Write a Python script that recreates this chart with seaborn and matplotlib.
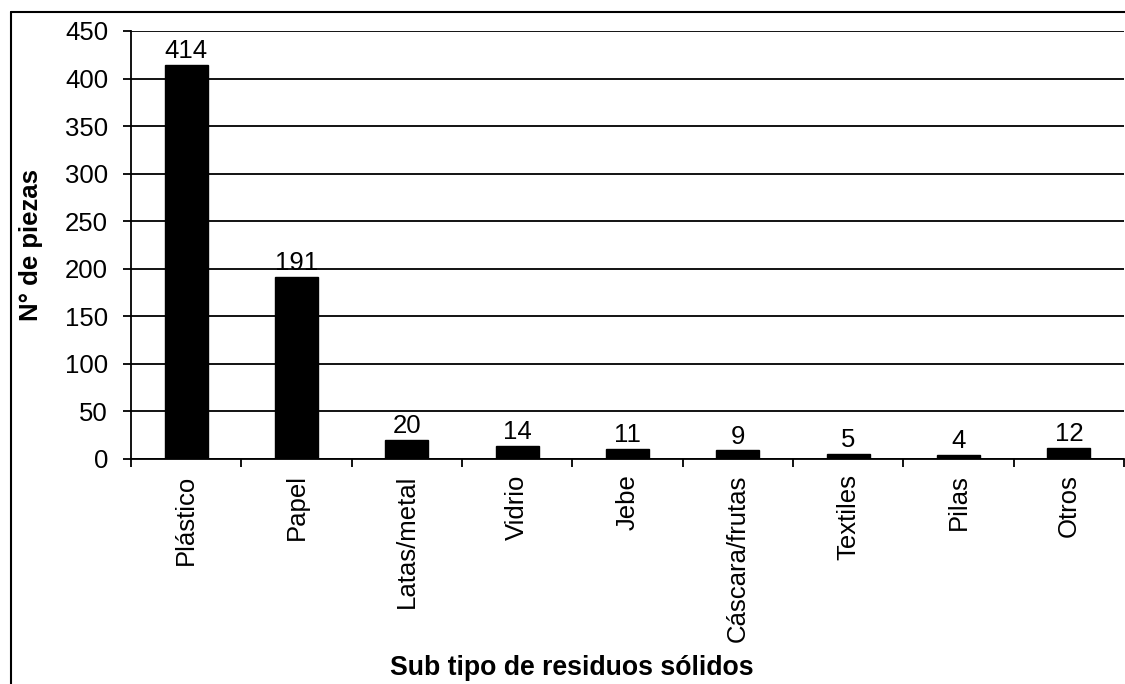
import numpy as np
import pandas as pd
import matplotlib
matplotlib.use("Agg")
import matplotlib.pyplot as plt
import seaborn as sns

categories = ["Plástico", "Papel", "Latas/metal", "Vidrio", "Jebe",
              "Cáscara/frutas", "Textiles", "Pilas", "Otros"]
counts = [414, 191, 20, 14, 11, 9, 5, 4, 12]
y_ticks = [0, 50, 100, 150, 200, 250, 300, 350, 400, 450]

df = pd.DataFrame({"tipo": categories, "piezas": counts})

sns.set_theme(style="white")
plt.rcParams["font.family"] = ["Liberation Sans", "DejaVu Sans"]
plt.rcParams["text.color"] = "black"
plt.rcParams["xtick.color"] = "black"
plt.rcParams["ytick.color"] = "black"
plt.rcParams["axes.labelcolor"] = "black"

FS = 18.5

W, H = 1125, 684
fig = plt.figure(figsize=(W / 100, H / 100), dpi=100)
ax = fig.add_axes([131 / W, 1 - 459 / H, (1124 - 131) / W, (459 - 31) / H])

# outer frame (only top and left fall inside the picture)
fig.add_artist(plt.Line2D([11 / W, 11 / W], [0, 1 - 12 / H], transform=fig.transFigure,
                          color="black", lw=1.5))
fig.add_artist(plt.Line2D([11 / W, 1], [1 - 12 / H, 1 - 12 / H], transform=fig.transFigure,
                          color="black", lw=1.5))

sns.barplot(data=df, x="tipo", y="piezas", color="black", width=0.39,
            saturation=1, edgecolor="black", ax=ax, zorder=3)

for i, v in enumerate(counts):
    ax.text(i, v + 2, str(v), ha="center", va="bottom", fontsize=FS, color="black")

ax.set_ylim(0, 450)
ax.set_xlim(-0.5, len(categories) - 0.5)
ax.set_yticks(y_ticks)
ax.yaxis.grid(True, color="black", lw=1.3, zorder=0)
ax.xaxis.grid(False)

ax.set_xticks(range(len(categories)))
ax.set_xticklabels(categories, rotation=90, fontsize=FS)
ax.set_xticks(np.arange(-0.5, len(categories) + 0.5, 1), minor=True)
ax.tick_params(axis="x", which="major", length=0, pad=11)
ax.tick_params(axis="x", which="minor", length=5.5, width=1.3, direction="out",
               color="black", bottom=True)
ax.tick_params(axis="y", length=5.5, width=1.3, direction="out", color="black",
               left=True, labelsize=FS, pad=11)

for side in ["top", "right"]:
    ax.spines[side].set_visible(False)
for side in ["left", "bottom"]:
    ax.spines[side].set_color("black")
    ax.spines[side].set_linewidth(1.3)

ax.set_xlabel("")
ax.set_ylabel("N° de piezas", fontsize=FS, fontweight="bold", labelpad=16)
fig.text(572 / W, 1 - 668 / H, "Sub tipo de residuos sólidos", ha="center", va="center",
         fontsize=19.2, fontweight="bold")

fig.savefig("out.png", dpi=100, facecolor="white")
